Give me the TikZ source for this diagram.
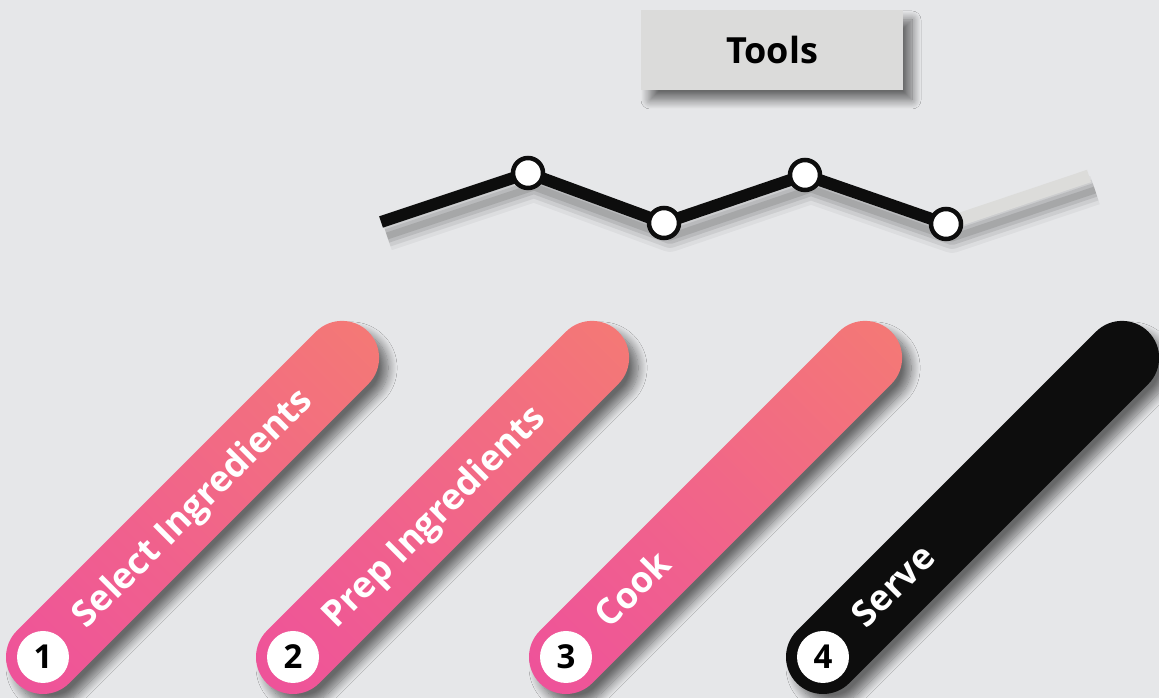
\documentclass[tikz,border=0pt]{standalone}
\usepackage{fontspec}
\setmainfont{Open Sans}
\usepackage{xcolor}
\usepackage{tikz}
\usetikzlibrary{shadows.blur,shadings}

\definecolor{fondo}{HTML}{E6E7E9}
\definecolor{rosa}{HTML}{EE519B}
\definecolor{rosamed}{HTML}{F1658A}
\definecolor{salmon}{HTML}{F47A74}
\definecolor{tinta}{HTML}{0D0D0D}
\definecolor{caja}{HTML}{DBDBDA}
\definecolor{gris}{HTML}{DCDCDA}

\begin{document}
\begin{tikzpicture}[x=1pt, y=1pt,
  sombra/.style={blur shadow={shadow xshift=9pt, shadow yshift=-10pt,
      shadow blur radius=9pt, shadow blur steps=12, shadow opacity=55}},
  barra/.style={sombra, lower left=rosa, upper right=salmon,
      upper left=rosamed, lower right=rosamed},
  barranegra/.style={sombra, fill=tinta},
  paso/.style={circle, fill=white, minimum size=52pt, inner sep=0pt,
      font=\fontsize{33}{33}\selectfont\bfseries},
  etiqueta/.style={anchor=base west, rotate=45, text=white, inner sep=0pt,
      font=\fontsize{36}{36}\selectfont\bfseries},
  caja/.style={sombra, fill=caja, minimum width=262pt, minimum height=80pt,
      font=\fontsize{36}{36}\selectfont\bfseries},
  nudo/.style={circle, draw=tinta, line width=4.5pt, fill=white,
      minimum size=30pt, inner sep=0pt},
  linea/.style={draw=tinta, line width=12pt, line join=round},
  sombralinea/.style={draw=black, line join=round}
]
  \useasboundingbox (0,0) rectangle (1159,698);
  \clip (0,0) rectangle (1159,698);
  \fill[fondo] (0,0) rectangle (1159,698);

  % caja de herramientas
  \node[caja] (tools) at (772,648) {Tools};

  % linea quebrada
  \coordinate (k0) at (381,476);
  \coordinate (k1) at (528,525);
  \coordinate (k2) at (664,475);
  \coordinate (k3) at (805,523);
  \coordinate (k4) at (946,474);
  \coordinate (k5) at (1089,522);
  \begin{scope}[transform canvas={shift={(6pt,-14pt)}}]
    \draw[sombralinea, line width=30pt, opacity=.04] (k0)--(k1)--(k2)--(k3)--(k4)--(k5);
    \draw[sombralinea, line width=22pt, opacity=.07] (k0)--(k1)--(k2)--(k3)--(k4)--(k5);
    \draw[sombralinea, line width=14pt, opacity=.09] (k0)--(k1)--(k2)--(k3)--(k4)--(k5);
    \draw[sombralinea, line width=7pt, opacity=.10] (k0)--(k1)--(k2)--(k3)--(k4)--(k5);
  \end{scope}
  \draw[draw=gris, line width=13pt] (k4)--(k5);
  \draw[linea] (k0)--(k1)--(k2)--(k3)--(k4);
  \node[nudo] (p1) at (k1) {};
  \node[nudo] (p2) at (k2) {};
  \node[nudo] (p3) at (k3) {};
  \node[nudo] (p4) at (k4) {};

  % barras
  \begin{scope}[shift={(43,41)}]
    \path[barra] (-45:37) -- ++(45:423) arc[start angle=-45, end angle=135, radius=37]
      -- ++(225:423) arc[start angle=135, end angle=315, radius=37] -- cycle;
    \node[paso] (n1) at (0,0) {1};
    \node[etiqueta] (t1) at (43.8,26.9) {Select Ingredients};
  \end{scope}
  \begin{scope}[shift={(293,41)}]
    \path[barra] (-45:37) -- ++(45:423) arc[start angle=-45, end angle=135, radius=37]
      -- ++(225:423) arc[start angle=135, end angle=315, radius=37] -- cycle;
    \node[paso] (n2) at (0,0) {2};
    \node[etiqueta] (t2) at (43.8,26.9) {Prep Ingredients};
  \end{scope}
  \begin{scope}[shift={(566,41)}]
    \path[barra] (-45:37) -- ++(45:423) arc[start angle=-45, end angle=135, radius=37]
      -- ++(225:423) arc[start angle=135, end angle=315, radius=37] -- cycle;
    \node[paso] (n3) at (0,0) {3};
    \node[etiqueta] (t3) at (43.8,26.9) {Cook};
  \end{scope}
  \begin{scope}[shift={(823,41)}]
    \path[barranegra] (-45:37) -- ++(45:423) arc[start angle=-45, end angle=135, radius=37]
      -- ++(225:423) arc[start angle=135, end angle=315, radius=37] -- cycle;
    \node[paso] (n4) at (0,0) {4};
    \node[etiqueta] (t4) at (43.8,26.9) {Serve};
  \end{scope}
\end{tikzpicture}
\end{document}
